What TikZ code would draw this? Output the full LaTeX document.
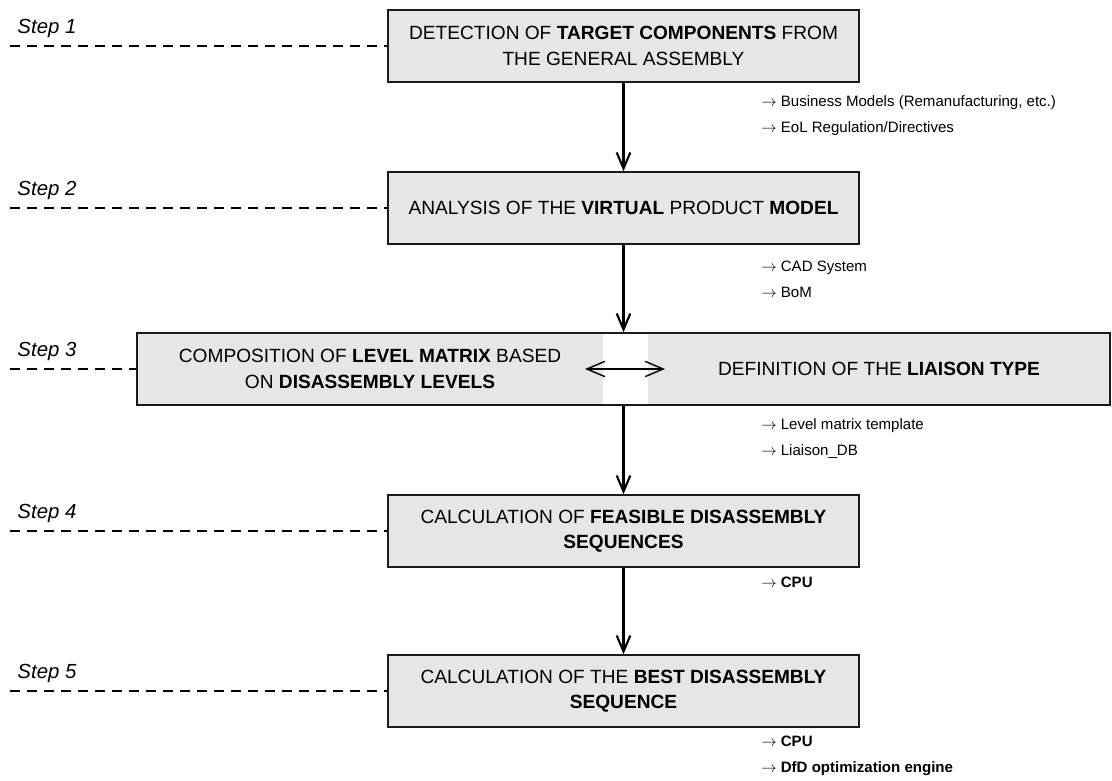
\documentclass[tikz,border=0pt]{standalone}
\usepackage{fontspec}
\setmainfont{Liberation Sans}
\usepackage{xcolor}
\usetikzlibrary{arrows.meta,positioning}
\definecolor{boxgray}{HTML}{E6E6E6}
\definecolor{linedark}{HTML}{1A1A1A}
\newcommand{\notearrow}{$\rightarrow$\ }
\tikzset{
  stepbox/.style={rectangle,draw=linedark,fill=boxgray,line width=1.1pt,align=center,minimum width=11.775cm,minimum height=1.8cm,font=\fontsize{13.6}{18}\selectfont},
  halfbox/.style={rectangle,fill=boxgray,align=center,minimum height=1.8cm,inner sep=0pt,font=\fontsize{13.6}{18}\selectfont},
  framebox/.style={rectangle,draw=linedark,line width=1.1pt,minimum width=24.325cm,minimum height=1.8cm},
  steplabel/.style={font=\fontsize{14.5}{16}\selectfont\itshape,inner sep=0pt},
  stepline/.style={line width=1.4pt,dash pattern=on 0.25cm off 0.175cm},
  note/.style={font=\fontsize{10.7}{18.5}\selectfont,align=left,anchor=north west,inner sep=0pt},
  edge/.style={-{Straight Barb[length=0.4cm,width=0.34cm]},line width=1.5pt,draw=black},
  dbledge/.style={{Straight Barb[length=0.45cm,width=0.38cm]}-{Straight Barb[length=0.45cm,width=0.38cm]},line width=1pt,draw=black}
}
\begin{document}
\begin{tikzpicture}[x=0.025cm,y=-0.025cm]
\useasboundingbox (0,0) rectangle (1112,781);
\node[stepbox] (b1) at (623.5,46) {DETECTION OF \textbf{TARGET COMPONENTS} FROM\\THE GENERAL ASSEMBLY};
\node[stepbox] (b2) at (623.5,208) {ANALYSIS OF THE \textbf{VIRTUAL} PRODUCT \textbf{MODEL}};
\node[halfbox,minimum width=11.65cm] (b3a) at (370,369) {COMPOSITION OF \textbf{LEVEL MATRIX} BASED\\ON \textbf{DISASSEMBLY LEVELS}};
\node[halfbox,minimum width=11.55cm] (b3b) at (879,369) {DEFINITION OF THE \textbf{LIAISON TYPE}};
\node[framebox] (b3) at (623.5,369) {};
\node[stepbox] (b4) at (623.5,531) {CALCULATION OF \textbf{FEASIBLE DISASSEMBLY}\\\textbf{SEQUENCES}};
\node[stepbox] (b5) at (623.5,691) {CALCULATION OF THE \textbf{BEST DISASSEMBLY}\\\textbf{SEQUENCE}};
\coordinate (s1) at (10,46);
\coordinate (s2) at (10,208);
\coordinate (s3) at (10,369);
\coordinate (s4) at (10,531);
\coordinate (s5) at (10,691);
\node[steplabel,above right=0.2cm and 0.18cm of s1] (t1) {Step 1};
\node[steplabel,above right=0.2cm and 0.18cm of s2] (t2) {Step 2};
\node[steplabel,above right=0.2cm and 0.18cm of s3] (t3) {Step 3};
\node[steplabel,above right=0.2cm and 0.18cm of s4] (t4) {Step 4};
\node[steplabel,above right=0.2cm and 0.18cm of s5] (t5) {Step 5};
\node[note] (n1) at (761,95) {\notearrow Business Models (Remanufacturing, etc.)\\\notearrow EoL Regulation/Directives};
\node[note] (n2) at (761,261) {\notearrow CAD System\\\notearrow BoM};
\node[note] (n3) at (761,418) {\notearrow Level matrix template\\\notearrow Liaison\_DB};
\node[note,font=\fontsize{10.7}{18.5}\selectfont\bfseries] (n4) at (761,577) {\notearrow CPU};
\node[note,font=\fontsize{10.7}{18}\selectfont\bfseries] (n5) at (761,736) {\notearrow CPU\\\notearrow DfD optimization engine};
\coordinate (la) at (585,369);
\coordinate (ra) at (665,369);
\draw[stepline] (s1) -- (b1.west);
\draw[stepline] (s2) -- (b2.west);
\draw[stepline] (s3) -- (b3.west);
\draw[stepline] (s4) -- (b4.west);
\draw[stepline] (s5) -- (b5.west);
\draw[edge] (b1) -- (b2);
\draw[edge] (b2) -- (b3);
\draw[edge] (b3) -- (b4);
\draw[edge] (b4) -- (b5);
\draw[dbledge] (la) -- (ra);
\end{tikzpicture}
\end{document}
